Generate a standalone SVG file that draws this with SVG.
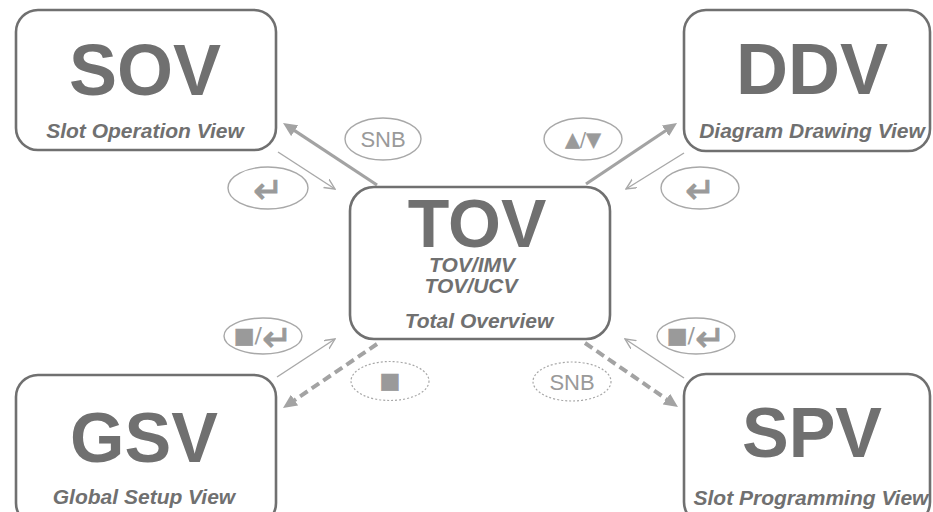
<svg xmlns="http://www.w3.org/2000/svg" width="933" height="512" viewBox="0 0 933 512">
<defs>
<style>
.box{fill:#fff;stroke:#707070;stroke-width:2.6}
.big{font-family:"Liberation Sans",Arial,sans-serif;font-weight:bold;fill:#707070;text-anchor:middle}
.sub{font-family:"Liberation Sans",Arial,sans-serif;font-weight:bold;font-style:italic;font-size:21px;fill:#707070;text-anchor:middle}
.thick{stroke:#a3a3a3;stroke-width:3.2;fill:none}
.dash{stroke:#a3a3a3;stroke-width:4;fill:none;stroke-dasharray:9 5}
.thin{stroke:#a8a8a8;stroke-width:1.4;fill:none}
.ell{fill:#fff;stroke:#a8a8a8;stroke-width:1.4}
.dot{fill:#fff;stroke:#a8a8a8;stroke-width:1.2;stroke-dasharray:2 2}
.lbl{font-family:"Liberation Sans",Arial,sans-serif;font-size:22px;fill:#9a9a9a;text-anchor:middle}
.sym{font-family:"DejaVu Sans",sans-serif;font-size:22px;fill:#9a9a9a;stroke:#9a9a9a;stroke-width:0.6;text-anchor:middle}
.ent{font-size:36px;stroke-width:1}
.sl{stroke-width:0}
</style>
<marker id="solid" markerUnits="userSpaceOnUse" markerWidth="15" markerHeight="13" refX="6" refY="6.5" orient="auto">
<path d="M0,0 L14,6.5 L0,13 z" fill="#a3a3a3"/>
</marker>
<marker id="open" markerUnits="userSpaceOnUse" markerWidth="12" markerHeight="12" refX="10.5" refY="5" orient="auto">
<path d="M0,0 L10.5,5 L0,10" fill="none" stroke="#a8a8a8" stroke-width="1.4"/>
</marker>
</defs>
<rect width="933" height="512" fill="#fff"/>

<g id="connectors">
<line class="thick" x1="377" y1="185" x2="289.7" y2="127.4" marker-end="url(#solid)"/>
<line class="thin" x1="278" y1="152" x2="335" y2="189" marker-end="url(#open)"/>
<line class="thick" x1="586" y1="184" x2="670.4" y2="127.5" marker-end="url(#solid)"/>
<line class="thin" x1="684" y1="153" x2="626" y2="189" marker-end="url(#open)"/>
<line class="thin" x1="277" y1="377" x2="335" y2="339" marker-end="url(#open)"/>
<line class="dash" x1="377" y1="344" x2="289.6" y2="403.5" marker-end="url(#solid)"/>
<line class="thin" x1="684" y1="378" x2="625" y2="339" marker-end="url(#open)"/>
<line class="dash" x1="585" y1="343" x2="671.4" y2="402.5" marker-end="url(#solid)"/>
</g>

<g id="label-snb-top">
<ellipse class="ell" cx="383" cy="139" rx="38" ry="21"/>
<text class="lbl" x="383" y="147">SNB</text>
</g>
<g id="label-enter-left">
<ellipse class="ell" cx="268" cy="188" rx="40" ry="21"/>
<text class="sym ent" x="268" y="203">↵</text>
</g>
<g id="label-updown">
<ellipse class="ell" cx="583" cy="139" rx="39" ry="21"/>
<text class="sym" x="583" y="146" style="font-size:19px">▲<tspan class="sl">/</tspan>▼</text>
</g>
<g id="label-enter-right">
<ellipse class="ell" cx="700" cy="188" rx="39" ry="21"/>
<text class="sym ent" x="700" y="203">↵</text>
</g>
<g id="label-stop-enter-left">
<ellipse class="ell" cx="263" cy="336" rx="39" ry="18"/>
<text class="sym" x="263" y="343">■<tspan class="sl">/</tspan><tspan class="ent" dy="8">↵</tspan></text>
</g>
<g id="label-stop">
<ellipse class="dot" cx="390" cy="381" rx="39" ry="19.5"/>
<text class="sym" x="390" y="388">■</text>
</g>
<g id="label-stop-enter-right">
<ellipse class="ell" cx="696" cy="336" rx="39" ry="18"/>
<text class="sym" x="696" y="343">■<tspan class="sl">/</tspan><tspan class="ent" dy="8">↵</tspan></text>
</g>
<g id="label-snb-bottom">
<ellipse class="dot" cx="572" cy="381.5" rx="39" ry="19.5"/>
<text class="lbl" x="572" y="389.5">SNB</text>
</g>

<g id="SOV">
<rect class="box" x="16" y="10" width="260" height="140" rx="22"/>
<text class="big" x="145" y="95" font-size="72">SOV</text>
<text class="sub" x="145" y="138">Slot Operation View</text>
</g>
<g id="DDV">
<rect class="box" x="684" y="10" width="246" height="141" rx="22"/>
<text class="big" x="812" y="94" font-size="72">DDV</text>
<text class="sub" x="812" y="138">Diagram Drawing View</text>
</g>
<g id="TOV">
<rect class="box" x="350" y="187" width="260" height="152" rx="24"/>
<text class="big" x="477" y="247" font-size="68">TOV</text>
<text class="sub" x="472" y="272">TOV/IMV</text>
<text class="sub" x="471" y="293">TOV/UCV</text>
<text class="sub" x="479" y="328">Total Overview</text>
</g>
<g id="GSV">
<rect class="box" x="16" y="375" width="260" height="150" rx="22"/>
<text class="big" x="144" y="462" font-size="70">GSV</text>
<text class="sub" x="144" y="504">Global Setup View</text>
</g>
<g id="SPV">
<rect class="box" x="684" y="374" width="246" height="150" rx="22"/>
<text class="big" x="812" y="457" font-size="70">SPV</text>
<text class="sub" x="811" y="505">Slot Programming View</text>
</g>
</svg>
